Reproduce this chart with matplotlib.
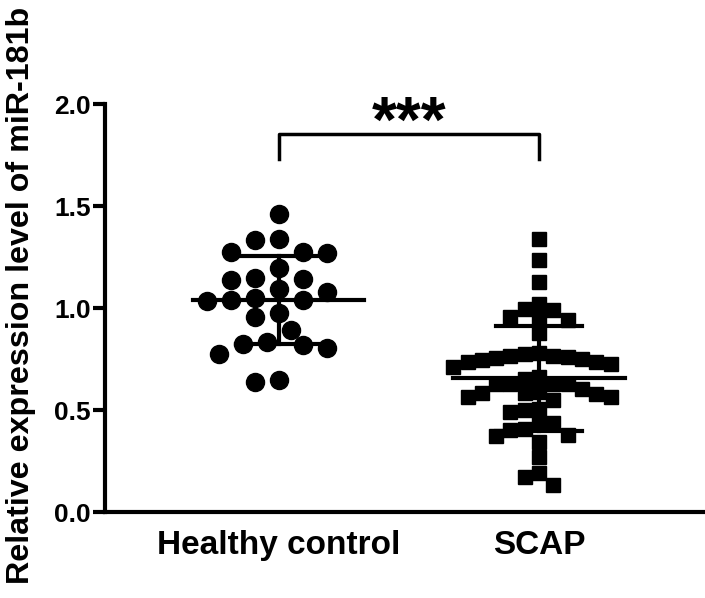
import numpy as np
import matplotlib
matplotlib.use('Agg')
import matplotlib.pyplot as plt

# values
groups = ['Healthy control', 'SCAP']
healthy = [1.46, 1.338, 1.333, 1.273, 1.270, 1.273, 1.195, 1.148, 1.138, 1.143,
           1.094, 1.077, 1.040, 1.032, 1.037, 1.050, 0.958, 0.975, 0.890, 0.825,
           0.805, 0.776, 0.820, 0.833, 0.637, 0.645]
scap = [1.338, 1.237, 1.126, 0.996, 0.991, 1.02, 0.950, 0.942, 0.958, 0.877,
        0.779, 0.764, 0.760, 0.751, 0.735, 0.724, 0.711, 0.735, 0.747, 0.755,
        0.763, 0.776, 0.654, 0.662,
        0.588, 0.629, 0.564, 0.629, 0.548, 0.605, 0.584, 0.584, 0.629, 0.564,
        0.629, 0.580, 0.502, 0.490, 0.507,
        0.434, 0.404, 0.372, 0.344, 0.377, 0.409, 0.437, 0.270, 0.189, 0.173, 0.132]
means = [1.04, 0.655]
sds = [0.215, 0.258]
yticks = [0.0, 0.5, 1.0, 1.5, 2.0]
ylabel = 'Relative expression level of miR-181b'
signif = '***'

plt.rcParams['font.family'] = ['Liberation Sans', 'DejaVu Sans']
plt.rcParams['font.weight'] = 'bold'

fig = plt.figure(figsize=(7.05, 5.98), dpi=100)
ax = fig.add_axes([105/705, 86/598, 600/705, 408/598])
ax.set_xlim(-0.666, 1.637)
ax.set_ylim(0, 2.0)

# pixels per data unit, to lay out the swarm
bbox = ax.get_window_extent()
px_x = bbox.width / (1.637 + 0.666)
px_y = bbox.height / 2.0


def swarm(vals, size, step, round_marker):
    #place each point at the nearest free slot to the centre
    order = np.argsort(vals)[::-1]
    placed = []
    offs = np.zeros(len(vals))
    cands = [0]
    for k in range(1, 30):
        cands += [-k * step, k * step]
    for i in order:
        y = vals[i] * px_y
        for c in cands:
            ok = True
            for (px, py) in placed:
                dx = abs(c - px)
                dy = abs(y - py)
                if round_marker:
                    hit = dx * dx + dy * dy < size * size
                else:
                    hit = dx < size and dy < size
                if hit:
                    ok = False
                    break
            if ok:
                offs[i] = c
                placed.append((c, y))
                break
    return offs / px_x


h_off = swarm(np.array(healthy), 18.5, 12, True)
s_off = swarm(np.array(scap), 14, 7.15, False)

ax.plot(0 + h_off, healthy, 'o', color='black', markersize=13, zorder=3)
ax.plot(1 + s_off, scap, 's', color='black', markersize=9.5, zorder=3)

# mean and SD lines
for i in range(2):
    ax.plot([i - 0.33, i + 0.33], [means[i], means[i]], color='black', lw=3, zorder=4)
    lo = means[i] - sds[i]
    hi = means[i] + sds[i]
    ax.plot([i, i], [lo, hi], color='black', lw=3, zorder=4)
    ax.plot([i - 0.165, i + 0.165], [lo, lo], color='black', lw=3, zorder=4)
    ax.plot([i - 0.165, i + 0.165], [hi, hi], color='black', lw=3, zorder=4)

# significance bracket
ax.plot([0, 0, 1, 1], [1.73, 1.853, 1.853, 1.73], color='black', lw=2.5,
        clip_on=False)
ax.text(0.5, 1.814, signif, ha='center', va='baseline', fontsize=46,
        fontweight='bold')

ax.set_xticks([0, 1])
ax.set_xticklabels(groups, fontsize=24, fontweight='bold')
ax.set_yticks(yticks)
ax.set_yticklabels(['{:.1f}'.format(v) for v in yticks], fontsize=19,
                   fontweight='bold')
ax.tick_params(axis='x', length=0, pad=13)
ax.tick_params(axis='y', length=9, width=3, pad=1)

# y label placed by hand so it fits the figure height
fig.text(21/705, 1 - 295/598, ylabel, rotation=90, ha='center', va='center',
         fontsize=23.2, fontweight='bold')

for s in ['top', 'right']:
    ax.spines[s].set_visible(False)
for s in ['left', 'bottom']:
    ax.spines[s].set_linewidth(3)

fig.savefig('out.png', dpi=100)
